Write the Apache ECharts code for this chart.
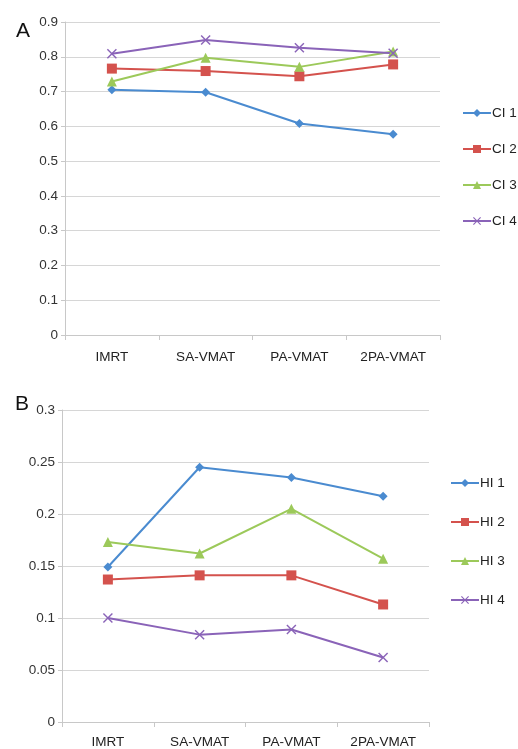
<!DOCTYPE html>
<html>
<head>
<meta charset="utf-8">
<script src="https://cdn.jsdelivr.net/npm/echarts@6/dist/echarts.min.js"></script>
<style>html,body{margin:0;padding:0;background:#fff;}#c{width:518px;height:749px;}</style>
</head>
<body>
<div id="c"></div>
<script>
var categories = ['IMRT', 'SA-VMAT', 'PA-VMAT', '2PA-VMAT'];
var ci1 = [0.705, 0.698, 0.608, 0.577];
var ci2 = [0.766, 0.759, 0.744, 0.778];
var ci3 = [0.729, 0.797, 0.771, 0.815];
var ci4 = [0.809, 0.848, 0.826, 0.810];
var hi1 = [0.149, 0.245, 0.235, 0.217];
var hi2 = [0.137, 0.141, 0.141, 0.113];
var hi3 = [0.173, 0.162, 0.205, 0.157];
var hi4 = [0.100, 0.084, 0.089, 0.062];
var ticksA = [0, 0.1, 0.2, 0.3, 0.4, 0.5, 0.6, 0.7, 0.8, 0.9];
var ticksB = [0, 0.05, 0.1, 0.15, 0.2, 0.25, 0.3];

var colors = ['#4a8bd0', '#d4524d', '#9cc95a', '#8a63b8'];
var xSym = 'path://M0,1L1,0L5,4L9,0L10,1L6,5L10,9L9,10L5,6L1,10L0,9L4,5Z';
var symbols = ['diamond', 'rect', 'triangle', xSym];
var sizes = [9, 10, 10, 10];
var font = 'Liberation Sans, Arial, sans-serif';

function mk(name, data, i, idx) {
  return {
    name: name, type: 'line', data: data,
    xAxisIndex: idx, yAxisIndex: idx,
    symbol: symbols[i], symbolSize: sizes[i],
    lineStyle: { color: colors[i], width: 2 },
    itemStyle: { color: colors[i] },
    showAllSymbol: true, animation: false
  };
}

function xAx(idx, margin) {
  return {
    type: 'category', gridIndex: idx, data: categories, boundaryGap: true,
    axisLine: { lineStyle: { color: '#c8c8c8', width: 1 } },
    axisTick: { show: true, length: 5, lineStyle: { color: '#c8c8c8' } },
    axisLabel: { color: '#222', fontSize: 13.5, fontFamily: font, margin: margin }
  };
}
function yAx(idx, max, interval, ticks) {
  return {
    type: 'value', gridIndex: idx, min: 0, max: max, interval: interval,
    axisLine: { show: true, lineStyle: { color: '#c8c8c8', width: 1 } },
    axisTick: { show: true, length: 4, lineStyle: { color: '#c8c8c8' } },
    splitLine: { lineStyle: { color: '#d6d6d6', width: 1 } },
    axisLabel: { color: '#333', fontSize: 13.5, fontFamily: font, margin: 7,
      formatter: function (v) {
        for (var k = 0; k < ticks.length; k++) { if (Math.abs(ticks[k] - v) < 1e-9) return String(ticks[k]); }
        return '';
      } }
  };
}

var chart = echarts.init(document.getElementById('c'), null, { renderer: 'canvas' });
chart.setOption({
  backgroundColor: '#fff',
  animation: false,
  title: [
    { text: 'A', left: 11, top: 16, textStyle: { fontSize: 21, fontWeight: 'normal', color: '#111', fontFamily: font } },
    { text: 'B', left: 10, top: 389, textStyle: { fontSize: 21, fontWeight: 'normal', color: '#111', fontFamily: font } }
  ],
  grid: [
    { left: 65, right: 78, top: 22, bottom: 414 },
    { left: 62, right: 89, top: 410, bottom: 27 }
  ],
  xAxis: [xAx(0, 15), xAx(1, 13)],
  yAxis: [yAx(0, 0.9, 0.1, ticksA), yAx(1, 0.3, 0.05, ticksB)],
  legend: [
    { orient: 'vertical', left: 462, top: 106, padding: 0, itemGap: 22, itemWidth: 28, itemHeight: 10,
      data: ['CI 1', 'CI 2', 'CI 3', 'CI 4'],
      textStyle: { color: '#222', fontSize: 13.5, fontFamily: font, padding: [0, 0, 0, -4] } },
    { orient: 'vertical', left: 450, top: 476, padding: 0, itemGap: 25, itemWidth: 28, itemHeight: 10,
      data: ['HI 1', 'HI 2', 'HI 3', 'HI 4'],
      textStyle: { color: '#222', fontSize: 13.5, fontFamily: font, padding: [0, 0, 0, -4] } }
  ],
  series: [
    mk('CI 1', ci1, 0, 0), mk('CI 2', ci2, 1, 0), mk('CI 3', ci3, 2, 0), mk('CI 4', ci4, 3, 0),
    mk('HI 1', hi1, 0, 1), mk('HI 2', hi2, 1, 1), mk('HI 3', hi3, 2, 1), mk('HI 4', hi4, 3, 1)
  ]
});
</script>
</body>
</html>
